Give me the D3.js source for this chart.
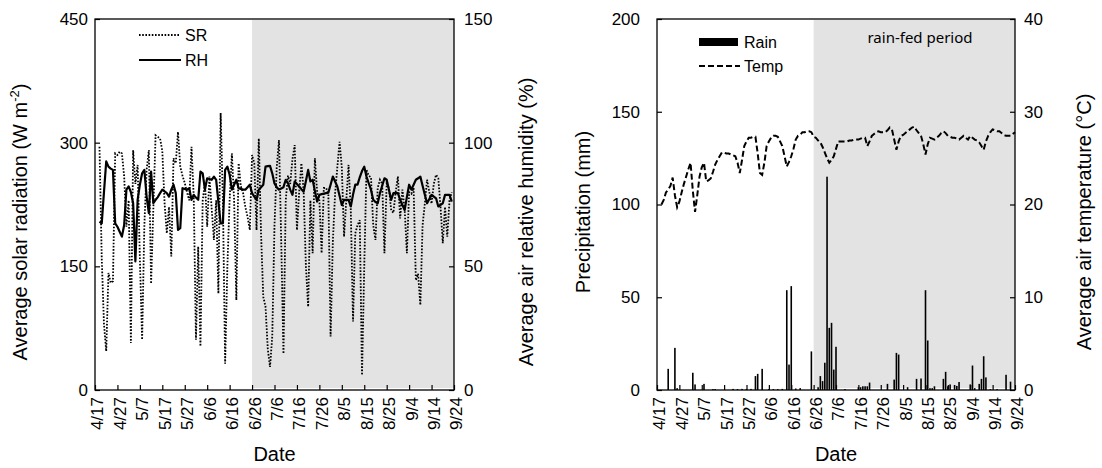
<!DOCTYPE html>
<html>
<head>
<meta charset="utf-8">
<script src="https://cdn.jsdelivr.net/npm/d3@7"></script>
<style>
body { margin: 0; background: #fff; }
svg text { font-family: "Liberation Sans", Arial, sans-serif; fill: #000; }
</style>
</head>
<body>
<svg width="1102" height="468"></svg>
<script>
// Daily series, one value per day starting at the given date
const seriesStart = "4/19";   // SR, RH and Temp begin here
const tickEvery = 10;         // days between x-axis ticks

// Solar radiation (W m-2), 4/19 .. 9/23
const srValues = [295,160,80,47,142,130,132,287,285,289,287,259,198,230,57,291,250,273,160,61,
    200,267,291,129,220,309,307,305,290,227,190,222,162,281,275,313,271,260,251,240,
    230,295,235,61,174,53,230,251,198,259,220,182,230,117,336,230,32,150,230,287,
    230,109,275,247,239,222,210,194,285,275,194,305,190,113,101,50,28,65,200,270,
    303,180,44,230,260,250,280,297,194,240,275,240,150,101,230,166,281,240,230,166,
    245,245,238,65,180,238,270,301,270,186,230,273,218,83,190,200,206,18,150,267,
    260,258,200,182,245,255,250,166,250,245,218,215,240,259,208,243,220,166,240,238,
    245,133,141,103,200,226,255,240,226,250,261,257,222,178,222,186,230,240];

// Relative humidity (%), 4/19 .. 9/23
const rhValues = [68.1,67.4,80,92.4,90.3,89.5,89,67.4,66,64,62,66.7,81,82.3,80,75.5,52,76.9,83,87.6,
    89,78.2,71.5,88.3,75.5,76.9,78,79.6,81,80.3,79.6,78.2,81,83,79.6,64.7,65.4,81.6,81.3,81,
    81.6,76.9,78.9,77.8,76.9,88.3,87.6,81,85.6,85.3,85,86.3,85,76,67.4,67.4,89,90.3,87,81,
    83,85,81.6,81.3,81,81,82,83,79.6,78.2,76.9,81,82,83,90.3,90.5,90.6,87.6,83.5,82,
    81,81.5,82,85,83.6,81,78.9,84.3,83.3,82.3,81.2,80.2,84.5,89,84.3,85,80.5,76.2,78.9,79.2,
    79.4,79.6,79.8,83,86.3,84.3,82.3,78.5,74.8,76.9,76.9,76.9,74.2,79,83,83,86,88.5,90.3,86.3,
    83.6,81,76.9,76,75.5,79.6,82.6,85.6,85,81,76.9,79.6,79.6,79.6,76.9,74.8,72.8,78,83,81,
    83,85,85.6,86.3,82.6,78.9,75.5,77.2,78.9,78.2,77.5,74.2,74.8,75.5,78.9,78.9,78.9,76.2];

// Air temperature (°C), 4/19 .. 9/24
const tempValues = [20.0,20.5,21.3,21.6,22.0,22.9,21.0,19.7,20.3,21.3,22.2,23.0,23.8,24.5,21.5,19.2,21.0,23.0,24.0,24.5,
    22.5,22.6,22.8,23.5,24.3,24.8,25.2,25.6,25.6,25.5,25.5,25.4,25.3,25.2,24.5,23.4,24.8,26.3,26.8,27.2,
    27.2,27.3,27.3,25.5,23.4,23.2,24.5,26.3,26.8,27.2,27.4,27.4,27.3,26.8,26.3,25.2,24.1,24.6,25.2,26.0,
    27.0,27.4,27.5,27.8,27.8,27.9,27.9,27.8,27.3,27.2,26.9,26.7,26.2,25.6,25.0,24.5,24.8,25.2,26.0,26.8,
    26.8,26.8,26.8,26.8,26.9,26.9,27.0,27.0,27.0,27.1,27.2,27.2,26.3,26.8,27.4,27.6,27.8,27.9,27.8,27.8,
    27.8,28.0,28.3,28.1,27.0,25.9,26.8,27.4,27.5,27.7,27.9,28.1,28.3,28.4,28.0,27.7,27.4,26.5,25.4,26.5,
    27.2,27.1,27.0,27.2,27.4,27.7,27.9,27.7,27.4,27.3,27.2,27.2,27.1,27.0,27.2,27.4,27.2,27.0,27.4,27.2,
    27.0,26.9,26.7,26.3,25.9,26.8,27.4,27.8,28.1,28.0,27.9,27.9,27.7,27.5,27.4,27.4,27.4,27.6,27.8];

// Rain (mm), only days with rain
const rainDates = ["4/22","4/25","4/26","5/3","5/4","5/8","5/12","5/13","5/21","5/23","5/25","5/27","5/29",
    "5/31","6/1","6/3","6/6","6/8","6/10","6/12","6/14","6/15","6/16","6/18","6/20","6/25","6/28","6/29",
    "6/30","7/1","7/2","7/3","7/4","7/5","7/6","7/10","7/16","7/17","7/18","7/19","7/20","7/21","7/29",
    "8/1","8/2","8/3","8/7","8/11","8/13","8/15","8/16","8/17","8/18","8/19","8/23","8/24","8/25","8/26",
    "8/28","8/29","8/30","9/4","9/5","9/6","9/8","9/9","9/10","9/11","9/13","9/16","9/20","9/22"];
const rainValues = [11.4,22.7,1.0,9.3,3.0,3.3,0.5,0.5,0.6,0.5,0.6,0.5,0.6,
    7.5,8.7,11.4,0.5,0.5,0.5,0.6,53.8,13.7,56,0.8,1.0,20.8,1.5,7.5,
    4.8,14.7,115,33.5,36.2,11,23.3,0.5,1.5,1.5,2.0,2.0,2.0,4.0,3.3,
    5.6,20,19.1,1.5,6,6.2,53.8,26.7,1,1,2,6,9.8,2,3,
    2.7,2.2,4.3,3,13.2,1,3.3,6,18.2,6.8,0.5,0.5,8.2,4.5];

const xStart = "4/17", xEnd = "9/24", rainFedStart = "6/26";
const leftTicks = [0, 150, 300, 450], rhTicks = [0, 50, 100, 150];
const precipTicks = [0, 50, 100, 150, 200], tempTicks = [0, 10, 20, 30, 40];

const year = 2019;
const toDate = s => d3.timeParse("%m/%d/%Y")(s + "/" + year);
const dayFrom = (s, i) => d3.timeDay.offset(toDate(s), i);

const svg = d3.select("svg");
const plotTop = 19, plotBottom = 390;
const shadeColor = "#e3e3e3";

function panel(x0, x1) {
    const x = d3.scaleTime().domain([toDate(xStart), toDate(xEnd)]).range([x0, x1]);
    const g = svg.append("g");
    // rain-fed shading
    g.append("rect")
        .attr("x", x(toDate(rainFedStart)))
        .attr("y", plotTop + 1)
        .attr("width", x1 - x(toDate(rainFedStart)))
        .attr("height", plotBottom - plotTop - 3)
        .attr("fill", shadeColor);
    return { x, g, x0, x1 };
}

function frame(p, yL, yR, ticksL, ticksR, padL, padR) {
    const g = p.g;
    g.append("g").attr("transform", `translate(${p.x0},0)`)
        .call(d3.axisLeft(yL).tickValues(ticksL).tickSize(-5).tickPadding(padL).tickSizeOuter(0))
        .call(a => a.select(".domain").remove())
        .call(a => a.selectAll("text").style("font-size", "17px"));
    g.append("g").attr("transform", `translate(${p.x1},0)`)
        .call(d3.axisRight(yR).tickValues(ticksR).tickSize(-5).tickPadding(padR).tickSizeOuter(0))
        .call(a => a.select(".domain").remove())
        .call(a => a.selectAll("text").style("font-size", "17px"));
    const ticks = d3.timeDay.range(toDate(xStart), d3.timeDay.offset(toDate(xEnd), 1), tickEvery);
    g.append("g").attr("transform", `translate(0,${plotBottom})`)
        .call(d3.axisBottom(p.x).tickValues(ticks).tickFormat(d3.timeFormat("%-m/%-d")).tickSize(-5).tickSizeOuter(0))
        .call(a => a.select(".domain").remove())
        .call(a => a.selectAll("text")
            .style("font-size", "17px")
            .attr("transform", "rotate(-90)")
            .attr("x", -7).attr("y", 2).attr("dy", "0.35em")
            .style("text-anchor", "end"));
    g.selectAll(".tick line").attr("stroke", "#000").attr("stroke-width", 1.2);
    g.append("rect")
        .attr("x", p.x0).attr("y", plotTop)
        .attr("width", p.x1 - p.x0).attr("height", plotBottom - plotTop)
        .attr("fill", "none").attr("stroke", "#000").attr("stroke-width", 1.3);
    g.append("text")
        .attr("x", (p.x0 + p.x1) / 2).attr("y", 461)
        .attr("text-anchor", "middle").style("font-size", "20px")
        .text("Date");
}

function yTitle(x, y, parts) {
    const t = svg.append("text")
        .attr("transform", `translate(${x},${y}) rotate(-90)`)
        .attr("text-anchor", "middle").style("font-size", "20px");
    parts.forEach(p => {
        const s = t.append("tspan").text(p.text);
        if (p.sup) s.style("font-size", "13px").attr("dy", -8);
        if (p.after) s.attr("dy", 8);
    });
}

// ---------- Left panel: SR and RH ----------
const L = panel(95, 454);
const ySR = d3.scaleLinear().domain([0, 450]).range([plotBottom, plotTop]);
const yRH = d3.scaleLinear().domain([0, 150]).range([plotBottom, plotTop]);

L.g.append("path")
    .datum(srValues)
    .attr("fill", "none").attr("stroke", "#000").attr("stroke-width", 1.8)
    .attr("stroke-dasharray", "1.6,1.6")
    .attr("d", d3.line().x((d, i) => L.x(dayFrom(seriesStart, i))).y(d => ySR(d)));
L.g.append("path")
    .datum(rhValues)
    .attr("fill", "none").attr("stroke", "#000").attr("stroke-width", 2.2)
    .attr("stroke-linejoin", "round")
    .attr("d", d3.line().x((d, i) => L.x(dayFrom(seriesStart, i))).y(d => yRH(d)));

frame(L, ySR, yRH, leftTicks, rhTicks, 7, 10);

// legend
L.g.append("line").attr("x1", 139).attr("x2", 179).attr("y1", 35).attr("y2", 35)
    .attr("stroke", "#000").attr("stroke-width", 1.8).attr("stroke-dasharray", "1.6,1.6");
L.g.append("text").attr("x", 185).attr("y", 41).style("font-size", "16px").text("SR");
L.g.append("line").attr("x1", 139).attr("x2", 181).attr("y1", 60).attr("y2", 60)
    .attr("stroke", "#000").attr("stroke-width", 2.2);
L.g.append("text").attr("x", 185).attr("y", 66).style("font-size", "16px").text("RH");

yTitle(27, 222, [{ text: "Average solar radiation (W m" }, { text: "-2", sup: true }, { text: ")", after: true }]);
yTitle(533, 222, [{ text: "Average air relative humidity (%)" }]);

// ---------- Right panel: Rain and Temp ----------
const R = panel(657, 1015);
const yP = d3.scaleLinear().domain([0, 200]).range([plotBottom, plotTop]);
const yT = d3.scaleLinear().domain([0, 40]).range([plotBottom, plotTop]);

R.g.selectAll("rect.rain")
    .data(rainValues)
    .join("rect")
    .attr("class", "rain")
    .attr("x", (d, i) => R.x(toDate(rainDates[i])) - 0.8)
    .attr("width", 1.6)
    .attr("y", d => yP(d))
    .attr("height", d => plotBottom - yP(d))
    .attr("fill", "#000");

R.g.append("path")
    .datum(tempValues)
    .attr("fill", "none").attr("stroke", "#000").attr("stroke-width", 2)
    .attr("stroke-dasharray", "6,3")
    .attr("d", d3.line().x((d, i) => R.x(dayFrom(seriesStart, i))).y(d => yT(d)));

frame(R, yP, yT, precipTicks, tempTicks, 17, 9);

R.g.append("text").attr("x", 920).attr("y", 43).attr("text-anchor", "middle")
    .style("font-family", "'Noto Sans', sans-serif").style("font-size", "15px")
    .text("rain-fed period");

// legend
R.g.append("rect").attr("x", 699).attr("y", 38).attr("width", 39).attr("height", 8).attr("fill", "#000");
R.g.append("text").attr("x", 744).attr("y", 48).style("font-size", "16px").text("Rain");
R.g.append("line").attr("x1", 699).attr("x2", 740).attr("y1", 66).attr("y2", 66)
    .attr("stroke", "#000").attr("stroke-width", 2).attr("stroke-dasharray", "6,3");
R.g.append("text").attr("x", 744).attr("y", 72).style("font-size", "16px").text("Temp");

yTitle(590, 212, [{ text: "Precipitation (mm)" }]);
yTitle(1091, 222, [{ text: "Average air temperature (°C)" }]);
</script>
</body>
</html>
